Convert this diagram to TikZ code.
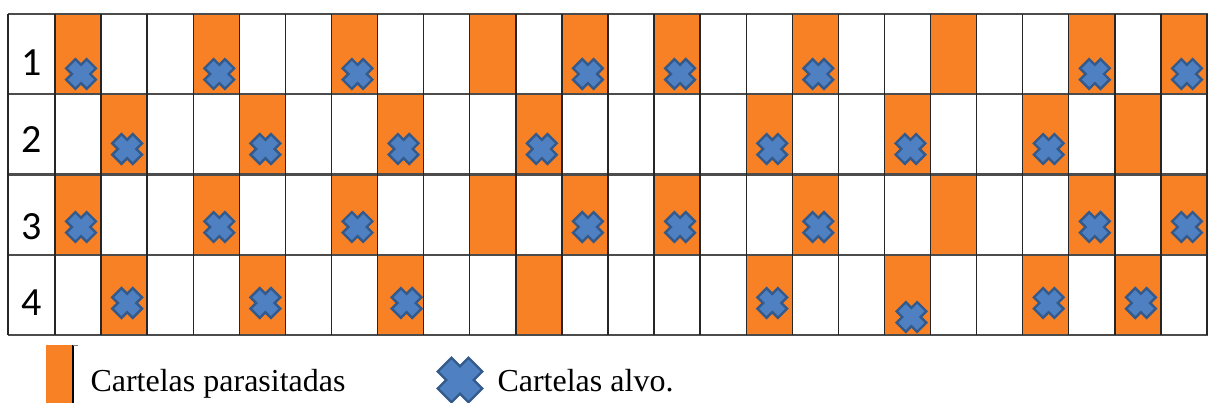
\documentclass[tikz,border=0pt]{standalone}
\usepackage{fontspec}
\setmainfont{Liberation Serif}
\newfontfamily\numfont{Carlito}
\usetikzlibrary{positioning}
\definecolor{parorange}{RGB}{247,129,36}
\definecolor{alvoblue}{RGB}{79,129,194}
\definecolor{alvoedge}{RGB}{52,90,140}
\tikzset{
  cell/.style={fill=parorange},
  vline/.style={line width=1.4pt,black!85},
  hline/.style={line width=2.2pt,black!70},
  rowlab/.style={font=\numfont\fontsize{40}{40}\selectfont},
  legtxt/.style={anchor=base west,font=\fontsize{32}{36}\selectfont},
  alvo/.pic={
    \path[fill=alvoblue,draw=alvoedge,line width=2.4pt,rotate=45]
      (-6.5,14.5) -- (6.5,14.5) -- (6.5,6.5) -- (14.5,6.5) -- (14.5,-6.5) -- (6.5,-6.5)
      -- (6.5,-14.5) -- (-6.5,-14.5) -- (-6.5,-6.5) -- (-14.5,-6.5) -- (-14.5,6.5)
      -- (-6.5,6.5) -- cycle;
  }
}
\begin{document}
\begin{tikzpicture}[x=1pt,y=-1pt]
    \useasboundingbox (0,0) rectangle (1209,403);
    % --- parasitised cells
    \foreach \c in {1,4,7,10,12,14,17,20,23,25}
      \foreach \r in {1,3}
        \fill[cell] ({55+(\c-1)*46.08},{14+(\r-1)*80.25}) rectangle ++(46.08,80.25);
    \foreach \c in {2,5,8,11,16,19,22,24}
      \foreach \r in {2,4}
        \fill[cell] ({55+(\c-1)*46.08},{14+(\r-1)*80.25}) rectangle ++(46.08,80.25);
    % --- grid
    \foreach \r in {0,...,4}
      \draw[hline] (8,{14+\r*80.25}) -- (1208,{14+\r*80.25});
    \draw[vline] (8,14) -- (8,335);
    \foreach \c in {0,...,25}
      \draw[vline] ({55+\c*46.08},14) -- ++(0,321);
    % --- row numbers
    \foreach \n/\y in {1/63,2/140,3/227,4/303}
      \node[rowlab] (row\n) at (31.5,\y) {\n};
    % --- target cards
    \foreach \c in {1,4,7,12,14,17,23,25}
      \foreach \y in {74,227}
        \pic at ({55+(\c-0.5)*46.08+3},\y) {alvo};
    \foreach \c in {2,5,8,11,16,19,22}
      \pic at ({55+(\c-0.5)*46.08+3},149) {alvo};
    \foreach \c/\dx/\dy in {2/3/0,5/3/0,8/6/0,16/3/0,19/4/14,22/3/0,24/3/0}
      \pic at ({55+(\c-0.5)*46.08+\dx},{303+\dy}) {alvo};
    % --- legend
    \fill[cell] (46,345) rectangle (73,403);
    \draw[line width=1.2pt,black] (73,345) -- (73,403);
    \draw[line width=0.8pt,black!50] (73,345) -- (78,345);
    \node[legtxt] (legpar) at (87,391) {Cartelas parasitadas};
    \pic[scale=1.5] at (460,380) {alvo};
    \node[legtxt] (legalvo) at (494,391) {Cartelas alvo.};
\end{tikzpicture}
\end{document}
